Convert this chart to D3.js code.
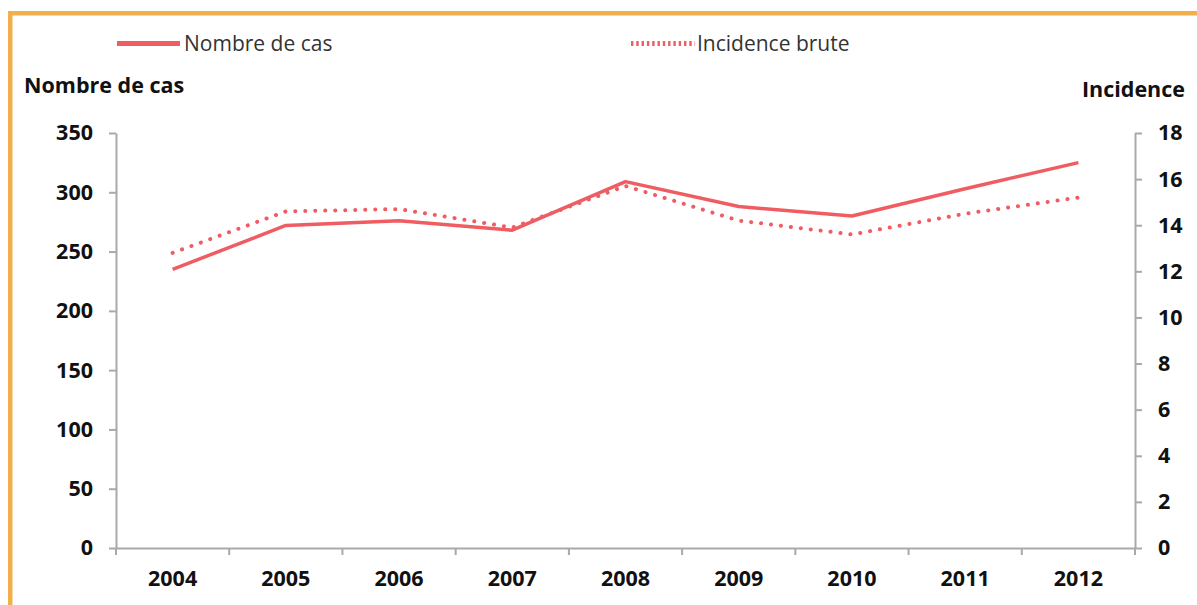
<!DOCTYPE html>
<html>
<head>
<meta charset="utf-8">
<script src="https://cdn.jsdelivr.net/npm/d3@7"></script>
<style>
  html, body { margin: 0; padding: 0; background: #fff; }
  svg { display: block; }
  text { font-family: "Open Sans", "Noto Sans", sans-serif; }
</style>
</head>
<body>
<svg id="chart" width="1197" height="605"></svg>
<script>
// Annual counts and crude incidence, 2004–2012
const years = ["2004", "2005", "2006", "2007", "2008", "2009", "2010", "2011", "2012"];
const cases = [235, 272, 276, 268, 309, 288, 280, 303, 325];
const incidence = [12.8, 14.6, 14.7, 13.9, 15.7, 14.2, 13.6, 14.5, 15.2];
const casesTicks = [0, 50, 100, 150, 200, 250, 300, 350];
const incidenceTicks = [0, 2, 4, 6, 8, 10, 12, 14, 16, 18];
const seriesNames = ["Nombre de cas", "Incidence brute"];
const axisTitles = ["Nombre de cas", "Incidence"];

const red = "#ef5d63";
const axisGrey = "#a9a9a9";
const frame = "#f1b04c";

const svg = d3.select("#chart");

// Frame: top and left edges
svg.append("rect").attr("x", 8).attr("y", 11).attr("width", 1189).attr("height", 4.5).attr("fill", frame);
svg.append("rect").attr("x", 8).attr("y", 11).attr("width", 4.5).attr("height", 594).attr("fill", frame);

const plotLeft = 116, plotRight = 1135, plotTop = 133, plotBottom = 548;

const x = d3.scaleBand().domain(years).range([plotLeft, plotRight]).padding(0);
const yL = d3.scaleLinear().domain([0, 350]).range([plotBottom, plotTop]);
const yR = d3.scaleLinear().domain([0, 18]).range([plotBottom, plotTop]);
const cx = d => x(d) + x.bandwidth() / 2;

function styleAxis(g) {
  g.select(".domain").attr("stroke", axisGrey).attr("stroke-width", 2);
  g.selectAll(".tick line").attr("stroke", axisGrey).attr("stroke-width", 2);
  g.selectAll(".tick text")
    .attr("fill", "#111")
    .style("font-size", "21.5px")
    .style("font-weight", "700");
}

// Left axis
const gL = svg.append("g").attr("transform", `translate(${plotLeft},0)`)
  .call(d3.axisLeft(yL).tickValues(casesTicks).tickSize(7).tickSizeOuter(0).tickPadding(16));
styleAxis(gL);

// Right axis
const gR = svg.append("g").attr("transform", `translate(${plotRight},0)`)
  .call(d3.axisRight(yR).tickValues(incidenceTicks).tickSize(7).tickSizeOuter(0).tickPadding(16));
styleAxis(gR);

// Bottom axis: labels centred in bands, ticks on band edges
const gB = svg.append("g").attr("transform", `translate(0,${plotBottom})`)
  .call(d3.axisBottom(x).tickSize(0).tickSizeOuter(0).tickPadding(23));
styleAxis(gB);
gB.selectAll(".tick text").attr("dy", "0.71em");
const edges = years.map(d => x(d)).concat([plotRight]);
gB.selectAll("line.edge").data(edges).enter().append("line")
  .attr("class", "edge")
  .attr("x1", d => d).attr("x2", d => d)
  .attr("y1", 0).attr("y2", 7)
  .attr("stroke", axisGrey).attr("stroke-width", 2);

// Axis titles
svg.append("text").attr("x", 24).attr("y", 93)
  .attr("fill", "#111").style("font-size", "21.5px").style("font-weight", "700")
  .text(axisTitles[0]);
svg.append("text").attr("x", 1185).attr("y", 97).attr("text-anchor", "end")
  .attr("fill", "#111").style("font-size", "21.5px").style("font-weight", "700")
  .text(axisTitles[1]);

// Series lines
const lineCases = d3.line().x((d, i) => cx(years[i])).y(d => yL(d));
const lineInc = d3.line().x((d, i) => cx(years[i])).y(d => yR(d));

svg.append("path").datum(cases)
  .attr("d", lineCases)
  .attr("fill", "none").attr("stroke", red).attr("stroke-width", 3.5)
  .attr("stroke-linejoin", "round");

svg.append("path").datum(incidence)
  .attr("d", lineInc)
  .attr("fill", "none").attr("stroke", red).attr("stroke-width", 4)
  .attr("stroke-linecap", "round").attr("stroke-dasharray", "0.1 9.9");

// Legend
const legend = svg.append("g");
legend.append("line").attr("x1", 117).attr("x2", 180).attr("y1", 43.5).attr("y2", 43.5)
  .attr("stroke", red).attr("stroke-width", 5);
legend.append("text").attr("x", 184).attr("y", 50.5)
  .attr("fill", "#333").style("font-size", "21px")
  .text(seriesNames[0]);
legend.append("line").attr("x1", 631).attr("x2", 695).attr("y1", 43.5).attr("y2", 43.5)
  .attr("stroke", red).attr("stroke-width", 5).attr("stroke-dasharray", "2.4 2.9");
legend.append("text").attr("x", 697).attr("y", 50.5)
  .attr("fill", "#333").style("font-size", "21px")
  .text(seriesNames[1]);
</script>
</body>
</html>
